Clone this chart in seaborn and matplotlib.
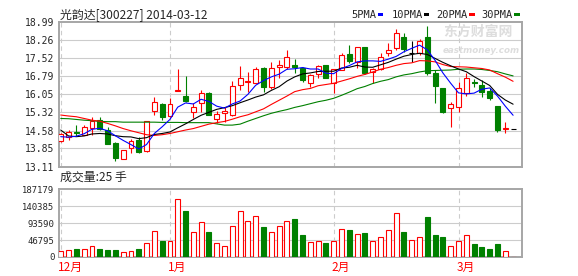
import numpy as np
import pandas as pd
import matplotlib
matplotlib.use("Agg")
import matplotlib.pyplot as plt
import matplotlib.transforms as mtransforms
from matplotlib.patches import Rectangle
import seaborn as sns

# ---------------- data ----------------
title = "光韵达[300227] 2014-03-12"
vol_label = "成交量:25 手"
month_labels = ["12月", "1月", "2月", "3月"]
month_pos = [0, 14, 35, 51]
price_ticks = [13.11, 13.85, 14.58, 15.32, 16.05, 16.79, 17.52, 18.26, 18.99]
vol_ticks = [0, 46795, 93590, 140385, 187179]
ma_names = ["5PMA", "10PMA", "20PMA", "30PMA"]

open_ = [14.14, 14.33, 14.50, 14.41, 14.68, 15.00, 14.60, 14.06, 13.43, 13.89,
         14.19, 13.75, 15.38, 15.67, 15.17, 16.18, 15.99, 15.32, 15.68, 16.11,
         15.05, 15.28, 15.21, 16.43, 16.54, 16.52, 17.13, 16.33, 17.17, 17.15,
         17.24, 17.13, 16.52, 16.87, 17.24, 16.50, 17.04, 17.68, 17.38, 17.96,
         16.94, 17.07, 17.74, 17.92, 18.39, 17.73, 17.72, 18.39, 16.93, 16.29,
         15.48, 15.52, 16.09, 16.54, 16.43, 16.18, 15.57, 14.63, 14.66]
high = [14.47, 14.60, 14.79, 14.82, 15.14, 15.11, 14.73, 14.12, 13.80, 14.23,
        14.33, 14.98, 15.95, 15.71, 15.92, 17.07, 16.78, 15.68, 16.22, 16.15,
        15.38, 15.55, 16.58, 17.20, 16.97, 17.17, 17.15, 17.35, 17.44, 17.85,
        17.50, 17.17, 16.86, 17.24, 17.26, 17.10, 17.72, 18.05, 17.99, 17.97,
        17.11, 17.72, 18.12, 18.69, 18.53, 18.23, 18.29, 18.83, 17.04, 16.31,
        15.75, 16.56, 16.90, 16.66, 16.63, 16.29, 15.57, 14.93, 14.66]
low = [14.12, 14.20, 14.35, 14.40, 14.41, 14.60, 14.02, 13.35, 13.42, 13.67,
       13.67, 13.69, 15.21, 15.00, 15.11, 16.18, 15.75, 15.10, 15.34, 15.20,
       14.88, 14.94, 15.18, 16.22, 16.15, 16.50, 16.14, 16.26, 16.70, 17.07,
       16.93, 16.56, 16.36, 16.73, 16.72, 16.09, 17.02, 17.33, 17.11, 16.89,
       16.50, 17.04, 17.61, 17.85, 17.78, 17.38, 17.65, 16.83, 15.68, 15.28,
       14.73, 15.34, 15.98, 16.33, 15.93, 15.84, 14.53, 14.46, 14.66]
close = [14.44, 14.52, 14.48, 14.73, 14.96, 14.64, 14.03, 13.47, 13.78, 14.15,
         13.72, 14.95, 15.72, 15.11, 15.65, 16.21, 15.79, 15.52, 16.09, 15.22,
         15.25, 15.37, 16.38, 16.70, 16.58, 17.07, 16.36, 17.13, 17.24, 17.55,
         17.17, 16.63, 16.83, 17.20, 16.73, 17.08, 17.65, 17.42, 17.96, 16.93,
         17.07, 17.58, 17.85, 18.53, 17.89, 17.73, 18.23, 16.90, 16.40, 15.33,
         15.64, 16.29, 16.70, 16.50, 16.15, 15.91, 14.60, 14.68, 14.66]
volume = [17400, 20200, 21100, 22900, 31200, 21100, 18300, 18300, 14700, 17400,
          21100, 37600, 72500, 43100, 45000, 160600, 128500, 69700, 97300, 67900,
          39500, 31200, 86200, 127500, 100000, 113800, 81700, 69700, 86200, 100000,
          103700, 59600, 42200, 45000, 37600, 45000, 78000, 73400, 64200, 65100,
          45000, 56000, 75200, 122000, 67900, 47700, 56000, 111900, 59600, 54100,
          31200, 45000, 61500, 34900, 26600, 21100, 34900, 17400, 25]
ma5 = [14.33, 14.31, 14.35, 14.45, 14.63, 14.67, 14.57, 14.37, 14.18, 14.01,
       13.83, 14.01, 14.46, 14.73, 15.03, 15.53, 15.70, 15.66, 15.85, 15.76,
       15.57, 15.49, 15.66, 15.78, 16.05, 16.42, 16.61, 16.76, 16.87, 17.07,
       17.09, 17.14, 17.08, 17.08, 16.91, 16.89, 17.10, 17.22, 17.37, 17.41,
       17.41, 17.39, 17.48, 17.59, 17.78, 17.92, 18.05, 17.86, 17.43, 16.92,
       16.50, 16.11, 16.07, 16.10, 16.26, 16.31, 15.98, 15.57, 15.20]
ma10 = [14.60, 14.36, 14.33, 14.36, 14.44, 14.46, 14.44, 14.37, 14.33, 14.32,
        14.25, 14.29, 14.42, 14.46, 14.52, 14.69, 14.85, 15.03, 15.20, 15.32,
        15.44, 15.51, 15.59, 15.71, 15.82, 15.94, 16.03, 16.21, 16.36, 16.59,
        16.76, 16.88, 16.92, 16.98, 16.99, 16.99, 17.12, 17.15, 17.23, 17.16,
        17.15, 17.25, 17.35, 17.48, 17.60, 17.67, 17.72, 17.67, 17.51, 17.35,
        17.21, 17.08, 16.97, 16.77, 16.59, 16.41, 16.05, 15.82, 15.65]
ma20 = [15.21, 15.17, 15.14, 15.07, 15.00, 14.96, 14.87, 14.77, 14.66, 14.57,
        14.49, 14.41, 14.38, 14.41, 14.46, 14.53, 14.60, 14.66, 14.75, 14.84,
        14.90, 14.95, 15.04, 15.14, 15.22, 15.34, 15.46, 15.64, 15.81, 15.98,
        16.16, 16.24, 16.29, 16.40, 16.45, 16.50, 16.59, 16.68, 16.78, 16.86,
        16.96, 17.07, 17.14, 17.23, 17.30, 17.33, 17.42, 17.41, 17.37, 17.26,
        17.18, 17.17, 17.16, 17.13, 17.10, 17.04, 16.89, 16.75, 16.58]
ma30 = [15.07, 15.06, 15.03, 15.00, 14.98, 14.95, 14.94, 14.94, 14.92, 14.92,
        14.92, 14.92, 14.92, 14.91, 14.91, 14.91, 14.90, 14.90, 14.90, 14.90,
        14.85, 14.80, 14.80, 14.84, 14.96, 15.07, 15.18, 15.28, 15.36, 15.43,
        15.52, 15.59, 15.67, 15.75, 15.81, 15.89, 16.01, 16.14, 16.28, 16.37,
        16.49, 16.58, 16.65, 16.76, 16.84, 16.89, 16.96, 17.01, 17.02, 17.03,
        17.04, 17.07, 17.08, 17.08, 17.06, 17.02, 16.97, 16.88, 16.80]

# ---------------- styles ----------------
RED = "#FF0000"
GREEN = "#008000"
BLUE = "#0000FF"
FRAME = "#A6A6A6"
GRID = "#CCCCCC"
ma_colors = {"5PMA": BLUE, "10PMA": "black", "20PMA": RED, "30PMA": GREEN}
CJK = ["Noto Sans CJK SC", "DejaVu Sans"]
MONO = "DejaVu Sans Mono"
LW = 0.8

sns.set_theme(style="white")
plt.rcParams["font.family"] = ["DejaVu Sans"]

W, H = 578, 276
fig = plt.figure(figsize=(W / 100, H / 100), dpi=100)
fig.patch.set_facecolor("white")


def fx(px):
    return px / W


def fy(py):
    return 1 - py / H


L, R = 58.7, 522.3
ax = fig.add_axes([fx(L), fy(166.7), fx(R) - fx(L), fy(22) - fy(166.7)])
axv = fig.add_axes([fx(L), fy(257), fx(R) - fx(L), fy(189.3) - fy(257)])

df = pd.DataFrame(dict(x=np.arange(len(close)), open=open_, high=high,
                       low=low, close=close, volume=volume))
up = (df.close > df.open).values
down = (df.close < df.open).values
flat = (df.close == df.open).values
cols = np.where(up, RED, np.where(down, GREEN, "black"))
bw = 0.62

# wicks
ax.vlines(df.x, df.low, df.high, colors=cols, lw=LW, zorder=2)
bottom = np.minimum(df.open, df.close)
height = (df.close - df.open).abs()
ax.bar(df.x[up], height[up], bottom=bottom[up], width=bw, facecolor="white",
       edgecolor=RED, lw=LW, zorder=3)
ax.bar(df.x[down], height[down], bottom=bottom[down], width=bw, facecolor=GREEN,
       edgecolor=GREEN, lw=LW, zorder=3)
ax.hlines(df.close[flat], df.x[flat] - bw / 2, df.x[flat] + bw / 2,
          colors="black", lw=LW, zorder=3)

# moving averages
ma_df = pd.DataFrame({"x": df.x, "5PMA": ma5, "10PMA": ma10,
                      "20PMA": ma20, "30PMA": ma30})
ma_long = ma_df.melt(id_vars="x", var_name="ma", value_name="v")
sns.lineplot(data=ma_long, x="x", y="v", hue="ma", hue_order=ma_names[::-1],
             palette=ma_colors, lw=LW, ax=ax, legend=False, zorder=4)

# volume bars
vup = (df.close >= df.open).values
axv.bar(df.x[vup], df.volume[vup], width=bw, facecolor="white", edgecolor=RED,
        lw=LW, zorder=3)
axv.bar(df.x[~vup], df.volume[~vup], width=bw, facecolor=GREEN,
        edgecolor=GREEN, lw=LW, zorder=3)

xlim = (-0.26, 59.18)
for a, ticks, lim in ((ax, price_ticks, (price_ticks[0], price_ticks[-1])),
                      (axv, vol_ticks, (vol_ticks[0], vol_ticks[-1]))):
    a.set_xlim(*xlim)
    a.set_ylim(*lim)
    a.set_facecolor("white")
    a.set_xlabel("")
    a.set_ylabel("")
    a.set_xticks([])
    a.set_yticks(ticks)
    a.grid(False)
    for y in ticks[1:-1]:
        a.axhline(y, color=GRID, lw=LW, zorder=0.5)
    for p in month_pos:
        a.axvline(p, color=GRID, lw=LW, ls=(0, (4, 3)), zorder=0.5)
    for s in a.spines.values():
        s.set_color(FRAME)
        s.set_linewidth(1.4)
        s.set_visible(True)
    a.tick_params(axis="y", length=0, pad=3)

ax.set_yticklabels([f"{v:.2f}" for v in price_ticks])
for t in ax.get_yticklabels():
    t.set_fontfamily(MONO)
    t.set_fontsize(7)
axv.set_yticklabels([str(v) for v in vol_ticks])
for t in axv.get_yticklabels():
    t.set_fontfamily(MONO)
    t.set_fontsize(6.4)

# month labels under the volume panel
trans = mtransforms.blended_transform_factory(axv.transData, axv.transAxes)
for p, lab in zip(month_pos, month_labels):
    axv.text(p - 0.3, -0.15, lab, transform=trans, color=RED, ha="left",
             va="center", fontsize=8.5, family=CJK)

# watermark
ax.text(0.829, 0.93, "东方财富网", transform=ax.transAxes, color="#DDDDDD",
        fontsize=10, fontweight="bold", family=CJK, ha="left", va="center",
        zorder=0.6)
ax.text(0.829, 0.80, "eastmoney.com", transform=ax.transAxes, color="#DDDDDD",
        fontsize=6.3, fontweight="bold", style="italic", ha="left",
        va="center", zorder=0.6)

# title and panel labels
fig.text(fx(60), fy(14.5), title, family=CJK, fontsize=8.6, ha="left",
         va="center")
fig.text(fx(60), fy(177.5), vol_label, family=CJK, fontsize=8.6, ha="left",
         va="center")

# legend
leg_text_x = [351.5, 391.5, 436.5, 481.5]
leg_rect_x = [377.5, 423.5, 469.0, 514.0]
for name, tx, rx in zip(ma_names, leg_text_x, leg_rect_x):
    fig.text(fx(tx), fy(14.8), name, family=MONO, fontsize=7.5, ha="left",
             va="center")
    fig.add_artist(Rectangle((fx(rx), fy(16)), 5.5 / W, 3 / H,
                             transform=fig.transFigure,
                             facecolor=ma_colors[name], edgecolor="none"))

fig.savefig("out.png", dpi=100, facecolor="white")
